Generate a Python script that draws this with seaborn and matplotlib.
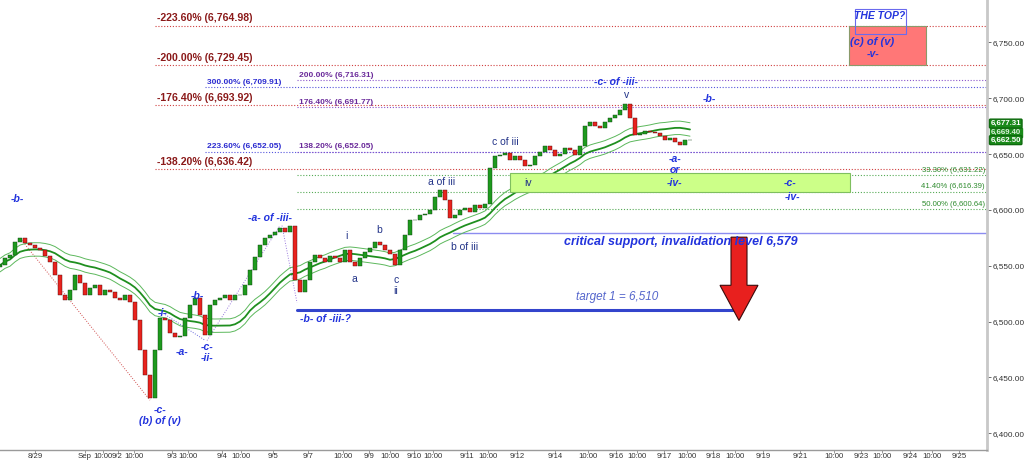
import numpy as np
import pandas as pd
import matplotlib
matplotlib.use("Agg")
import matplotlib.pyplot as plt
import matplotlib.transforms as mtransforms
from matplotlib.patches import Rectangle, Polygon
import seaborn as sns

# ---------------- data ----------------
closes = [6550.5, 6556.8, 6559.5, 6571.1, 6574.7, 6570.2, 6568.4, 6565.8, 6564.0, 6558.6,
          6553.2, 6541.6, 6523.6, 6519.2, 6528.1, 6541.6, 6534.4, 6523.6, 6529.9, 6532.6,
          6523.6, 6528.1, 6526.3, 6521.0, 6519.2, 6523.6, 6517.4, 6501.2, 6474.4, 6452.0,
          6431.4, 6474.4, 6503.0, 6501.2, 6489.6, 6486.0, 6486.9, 6503.0, 6514.7, 6521.0,
          6505.7, 6487.8, 6514.7, 6519.2, 6521.0, 6523.6, 6519.2, 6523.6, 6523.6, 6532.6,
          6546.0, 6557.7, 6568.4, 6574.7, 6577.4, 6580.1, 6583.7, 6580.1, 6585.5, 6537.1,
          6526.3, 6537.1, 6553.2, 6559.5, 6556.8, 6553.2, 6558.6, 6556.8, 6553.2, 6564.0,
          6553.2, 6549.6, 6556.8, 6562.2, 6565.8, 6571.1, 6568.4, 6564.0, 6560.4, 6550.5,
          6564.0, 6577.4, 6590.8, 6590.8, 6595.3, 6596.2, 6599.8, 6611.5, 6617.7, 6608.8,
          6592.6, 6595.3, 6599.8, 6601.6, 6598.0, 6604.3, 6601.6, 6605.2, 6637.4, 6648.2,
          6649.1, 6650.9, 6644.6, 6648.2, 6644.6, 6639.2, 6640.1, 6648.2, 6651.8, 6657.2,
          6653.6, 6648.2, 6650.0, 6655.4, 6653.6, 6649.1, 6657.2, 6675.1, 6678.7, 6675.1,
          6673.3, 6678.7, 6682.2, 6684.9, 6689.4, 6694.8, 6682.2, 6667.0, 6667.9, 6670.6,
          6669.7, 6668.8, 6666.1, 6662.5, 6664.3, 6660.7, 6658.0, 6662.5, 6662.5]

fib_red_pct = ["-223.60%", "-200.00%", "-176.40%", "-138.20%"]
fib_red_val = [6764.98, 6729.45, 6693.92, 6636.42]
fib_blue_pct = ["300.00%", "223.60%"]
fib_blue_val = [6709.91, 6652.05]
fib_purple_pct = ["200.00%", "176.40%", "138.20%"]
fib_purple_val = [6716.31, 6691.77, 6652.05]
fib_green_pct = ["33.30%", "41.40%", "50.00%"]
fib_green_val = [6631.22, 6616.39, 6600.64]
support_level = 6579
target_level = 6510
last_prices = [6677.31, 6662.50]
price_ticks = [6400, 6450, 6500, 6550, 6600, 6650, 6700, 6750]
x_tick_labels = ["8/29", "Sep", "10:00", "9/2", "10:00", "9/3", "10:00", "9/4", "10:00", "9/5",
                 "9/7", "10:00", "9/9", "10:00", "9/10", "10:00", "9/11", "10:00", "9/12",
                 "9/14", "10:00", "9/16", "10:00", "9/17", "10:00", "9/18", "10:00", "9/19",
                 "9/21", "10:00", "9/23", "10:00", "9/24", "10:00", "9/25"]
x_tick_pos = [7, 17, 20.6, 23.5, 26.8, 34.4, 37.6, 44.4, 48.2, 54.6,
              61.6, 68.6, 73.8, 78, 82.8, 86.6, 93.4, 97.6, 103.4,
              111, 117.6, 123.2, 127.4, 132.8, 137.4, 142.6, 147, 152.6,
              160, 166.8, 172.2, 176.4, 182, 186.4, 191.8]

# ---------------- style ----------------
sns.set_theme(style="white")
plt.rcParams['font.family'] = ['Liberation Sans', 'DejaVu Sans']

fig = plt.figure(figsize=(10.24, 4.62), dpi=100)
ax = fig.add_axes([0, 12/462, 987/1024, 450/462])
XMAX = 197.4
ax.set_xlim(0, XMAX)
ax.set_ylim(6385, 6788)

idx = np.arange(len(closes))
c = np.array(closes)
opens = np.concatenate([[c[0] - 2], c[:-1]])

# moving-average envelope
ma = pd.Series(c).rolling(20, min_periods=1).mean().values
sns.lineplot(x=idx, y=ma + 6, ax=ax, color="#5cb85c", lw=0.7, zorder=3)
sns.lineplot(x=idx, y=ma, ax=ax, color="#1f8f1f", lw=1.3, zorder=3)
sns.lineplot(x=idx, y=ma - 6, ax=ax, color="#5cb85c", lw=0.7, zorder=3)

# candles
up = c >= opens
ax.bar(idx[up], (c - opens)[up], bottom=opens[up], width=0.75, color="#1e9a1e",
       edgecolor="#0b3d0b", linewidth=0.3, zorder=4)
ax.bar(idx[~up], (opens - c)[~up], bottom=c[~up], width=0.75, color="#e8231e",
       edgecolor="#4a0a0a", linewidth=0.3, zorder=4)

dot = (0, (1, 1.6))
for p, v in zip(fib_red_pct, fib_red_val):
    ax.plot([31, XMAX], [v, v], color="#d04040", lw=0.8, ls=dot, zorder=2)
    ax.text(31.4, v + 2.0, f"{p} ({v:,.2f})", color="#8b1a1a", fontsize=7.6,
            fontweight="bold", ha="left", va="bottom", zorder=6)
for p, v in zip(fib_blue_pct, fib_blue_val):
    ax.plot([41, XMAX], [v, v], color="#5555dd", lw=0.8, ls=dot, zorder=2)
    ax.text(41.4, v + 1.2, f"{p} ({v:,.2f})", color="#2a2ad0", fontsize=6.0,
            fontweight="bold", ha="left", va="bottom", zorder=6)
for p, v in zip(fib_purple_pct, fib_purple_val):
    ax.plot([59.4, XMAX], [v, v], color="#8a55cc", lw=0.8, ls=dot, zorder=2)
    ax.text(59.8, v + 1.2, f"{p} ({v:,.2f})", color="#6a2a9a", fontsize=6.0,
            fontweight="bold", ha="left", va="bottom", zorder=6)
for p, v in zip(fib_green_pct, fib_green_val):
    ax.plot([59.4, XMAX], [v, v], color="#55aa55", lw=0.8, ls=dot, zorder=2)
    ax.text(197, v + 1.2, f"{p} ({v:,.2f})", color="#2e8b2e", fontsize=5.6,
            ha="right", va="bottom", zorder=6)

# green zone and red target box
ax.add_patch(Rectangle((102, 6616.0), 68, 17.0, facecolor="#ccff88", edgecolor="#7fbf5f",
                       lw=0.8, zorder=3))
ax.add_patch(Rectangle((169.8, fib_red_val[1]), 15.4, fib_red_val[0] - fib_red_val[1],
                       facecolor="#ff7777", edgecolor="#8a9a6a", lw=0.8, zorder=3))
ax.add_patch(Rectangle((171, 6757.5), 10.2, 22.5, facecolor="none", edgecolor="#6a6aee",
                       lw=0.8, zorder=5))

# support and target lines
ax.plot([90.6, XMAX], [support_level] * 2, color="#8c8cf0", lw=1.0, zorder=2)
ax.plot([59.4, 148], [target_level] * 2, color="#3344cc", lw=2.2, zorder=5)

# arrow
arrow = Polygon([(146.2, 6575.6), (149.4, 6575.6), (149.4, 6532.5), (151.6, 6532.5),
                 (147.8, 6501.0), (144.0, 6532.5), (146.2, 6532.5)],
                closed=True, facecolor="#e8201e", edgecolor="#3a0a0a", lw=0.8, zorder=6)
ax.add_patch(arrow)

# wave connector lines
ax.plot([4, 30], [6574.7, 6429.6], color="#d05050", lw=0.7, ls=dot, zorder=2)
ax.plot([32.6, 41], [6507.5, 6483.3], color="#6a6add", lw=0.7, ls=dot, zorder=2)
ax.plot([41.4, 56], [6483, 6586], color="#9a7add", lw=0.7, ls=dot, zorder=2)
ax.plot([56.4, 59.4], [6586, 6517], color="#9a7add", lw=0.7, ls=dot, zorder=2)

# annotations
blue = "#2233dd"
def wave(x, y, s, size=7.5):
    ax.text(x, y, s, color=blue, fontsize=size, style="italic", fontweight="bold",
            ha="center", va="center", zorder=7)

def minor(x, y, s):
    ax.text(x, y, s, color="#223388", fontsize=7.5, ha="center", va="center", zorder=7)

wave(3.4, 6610, "-b-")
wave(54, 6592.6, "-a- of -iii-")
wave(32.6, 6508, "-i-")
wave(39.4, 6523, "-b-")
wave(36.4, 6473, "-a-")
wave(41.4, 6477, "-c-")
wave(41.4, 6467, "-ii-")
wave(32, 6421, "-c-")
wave(32, 6411, "(b) of (v)")
wave(65, 6502, "-b- of -iii-?")
wave(123.2, 6714.5, "-c- of -iii-")
wave(141.8, 6699, "-b-")
wave(135, 6646, "-a-")
wave(135, 6636, "or")
wave(135, 6624, "-iv-")
wave(158, 6624, "-c-")
wave(158.6, 6612, "-iv-")
wave(176, 6774, "THE TOP?")
wave(174.4, 6750, "(c) of (v)", 8)
wave(174.6, 6740, "-v-")
ax.text(136.2, 6571, "critical support, invalidation level 6,579", color=blue, fontsize=9,
        style="italic", fontweight="bold", ha="center", va="center", zorder=7)
ax.text(123.4, 6522, "target 1 = 6,510", color="#5566cc", fontsize=8.5,
        style="italic", ha="center", va="center", zorder=7)

minor(69.2, 6576.5, "i")
minor(70.8, 6538, "a")
minor(75.8, 6582, "b")
minor(79.2, 6537, "c")
minor(79.2, 6527, "ii")
minor(88.4, 6625, "a of iii")
minor(93, 6567, "b of iii")
minor(101, 6661, "c of iii")
minor(105.6, 6624, "iv")
minor(125.4, 6703, "v")

# axes styling
for s in ["top", "left"]:
    ax.spines[s].set_visible(False)
ax.spines["right"].set_color("#c8c8c8")
ax.spines["right"].set_linewidth(2)
ax.spines["bottom"].set_color("#9a9a9a")
ax.spines["bottom"].set_linewidth(1)
ax.yaxis.tick_right()
ax.set_yticks(price_ticks)
ax.set_yticklabels([f"{t:,.2f}" for t in price_ticks])
ax.set_xticks(x_tick_pos)
ax.set_xticklabels(x_tick_labels)
ax.tick_params(axis="y", right=True, length=3, width=0.6, color="#555555",
               labelsize=5.9, labelcolor="#333333", pad=0.8)
ax.tick_params(axis="x", bottom=True, length=2, width=0.6, color="#888888",
               labelsize=5.6, labelcolor="#333333", pad=0.5)
ax.grid(False)

# last price tags
trans = mtransforms.blended_transform_factory(ax.transAxes, ax.transData)
ax.text(1.0035, 6669.6, "6,669.40", transform=trans, fontsize=5.7, color="#d8f0d8",
        fontweight="bold", va="center", ha="left", clip_on=False, zorder=8,
        bbox=dict(boxstyle="square,pad=0.12", fc="#1a8a1a", ec="#1a8a1a"))
for v in last_prices:
    ax.text(1.0035, v, f"{v:,.2f}", transform=trans, fontsize=5.7, color="white",
            fontweight="bold", va="center", ha="left", clip_on=False, zorder=9,
            bbox=dict(boxstyle="round,pad=0.12", fc="#1a8a1a", ec="#0e6a0e"))

fig.savefig("out.png", dpi=100, facecolor="white")
